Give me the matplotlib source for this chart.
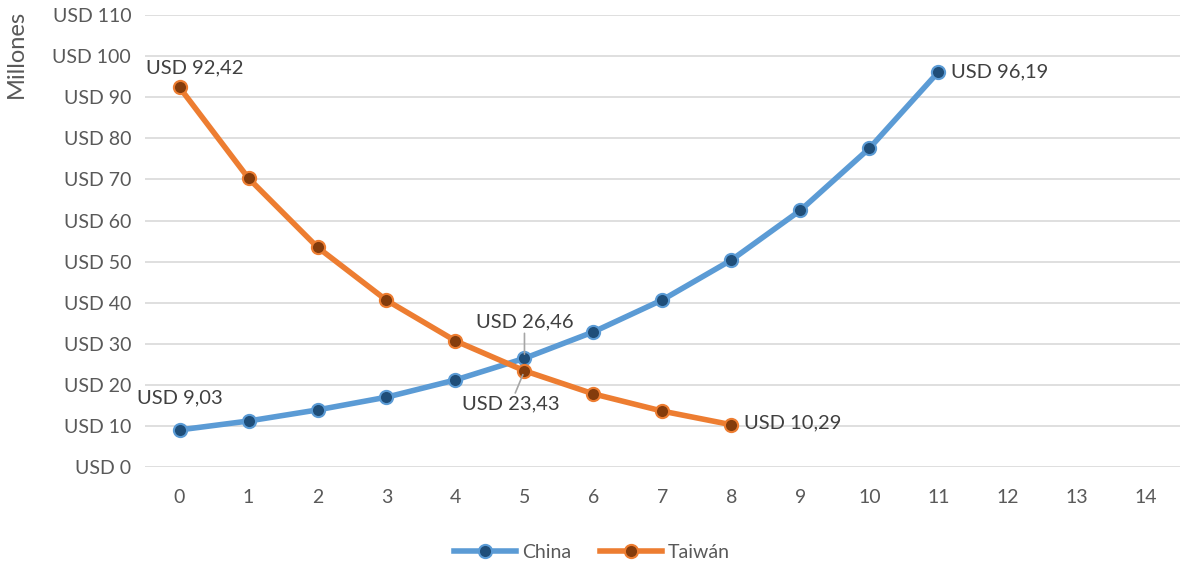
import matplotlib
matplotlib.use('Agg')
import matplotlib.pyplot as plt
import numpy as np

# -[Datos]-----------------------------------------------------------------------
x_china  = [0, 1, 2, 3, 4, 5, 6, 7, 8, 9, 10, 11]
y_china  = [9.03, 11.2, 13.9, 17.0, 21.2, 26.46, 32.9, 40.7, 50.4, 62.5, 77.6, 96.19]
x_taiwan = [0, 1, 2, 3, 4, 5, 6, 7, 8]
y_taiwan = [92.42, 70.3, 53.5, 40.6, 30.7, 23.43, 17.8, 13.6, 10.29]
xticks   = list(range(0, 15))
yticks   = list(range(0, 111, 10))

plt.rcParams['font.family'] = ['Lato', 'DejaVu Sans']

c_blue, c_blue_d = "#5B9BD5", "#1F4E79"
c_orng, c_orng_d = "#ED7D31", "#843C0C"
tcol = "#595959"
lcol = "#404040"

fig = plt.figure(figsize=(11.84, 5.63), dpi=100)
ax = fig.add_axes([0.1225, 0.1705, 0.874, 0.8025])

ax.plot(x_china, y_china, "-o", color=c_blue, lw=4, ms=9.5,
        mfc=c_blue_d, mec=c_blue, mew=1.5, label="China", zorder=3)
ax.plot(x_taiwan, y_taiwan, "-o", color=c_orng, lw=4, ms=9.5,
        mfc=c_orng_d, mec=c_orng, mew=1.5, label="Taiwán", zorder=3)

ax.set_xlim(-0.5, 14.5)
ax.set_ylim(0, 110)
ax.set_xticks(xticks)
ax.set_yticks(yticks)
ax.set_yticklabels([f"USD {v}" for v in yticks])
ax.tick_params(length=0, labelsize=14, colors=tcol, pad=10)
ax.tick_params(axis='x', pad=16)
ax.grid(axis='y', color="#D9D9D9", lw=1.2)
for s in ax.spines.values():
    s.set_visible(False)
ax.set_axisbelow(True)
ax.set_ylabel("Millones", fontsize=17, color=tcol)
ax.yaxis.set_label_coords(-0.114, 0.915)

def fmt(v):
    return "USD " + f"{v:.2f}".replace(".", ",")

fs = 14.5
ax.annotate(fmt(y_china[0]), (x_china[0], y_china[0]), xytext=(0, 17),
            textcoords="offset points", ha="center", va="bottom", fontsize=fs, color=lcol)
ax.annotate(fmt(y_taiwan[0]), (x_taiwan[0], y_taiwan[0]), xytext=(11, 8),
            textcoords="offset points", ha="center", va="bottom", fontsize=fs, color=lcol)
ax.annotate(fmt(y_china[-1]), (x_china[-1], y_china[-1]), xytext=(9, 0),
            textcoords="offset points", ha="left", va="center", fontsize=fs, color=lcol)
ax.annotate(fmt(y_taiwan[-1]), (x_taiwan[-1], y_taiwan[-1]), xytext=(9, 1),
            textcoords="offset points", ha="left", va="center", fontsize=fs, color=lcol)
ax.annotate(fmt(y_china[5]), (x_china[5], y_china[5]), xytext=(0, 20),
            textcoords="offset points", ha="center", va="bottom", fontsize=fs, color=lcol,
            arrowprops=dict(arrowstyle="-", color="#A6A6A6", lw=1.2, shrinkA=0, shrinkB=3))
ax.annotate(fmt(y_taiwan[5]), (x_taiwan[5], y_taiwan[5]), xytext=(-10, -18),
            textcoords="offset points", ha="center", va="top", fontsize=fs, color=lcol,
            arrowprops=dict(arrowstyle="-", color="#A6A6A6", lw=1.2, shrinkA=0, shrinkB=3))

leg = fig.legend(loc="lower center", bbox_to_anchor=(0.5, -0.027), ncol=2, frameon=False,
                 fontsize=14, handlelength=3.2, columnspacing=1.5, handletextpad=0.3)
for t in leg.get_texts():
    t.set_color(tcol)

fig.savefig("out.png", dpi=100)
